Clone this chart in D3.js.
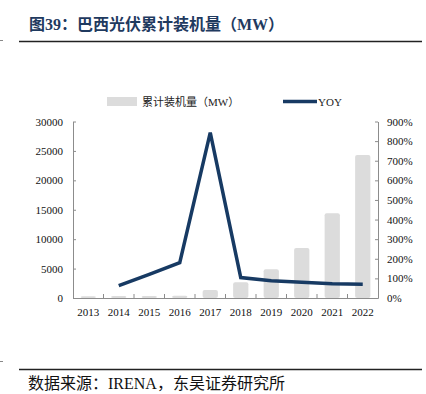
<!DOCTYPE html>
<html>
<head>
<meta charset="utf-8">
<script src="https://cdn.jsdelivr.net/npm/d3@7"></script>
<style>
  body { margin: 0; background: #fff; }
  text { font-family: "Liberation Serif", "Noto Sans CJK SC", serif; }
</style>
</head>
<body>
<script>
// data
const years = ["2013", "2014", "2015", "2016", "2017", "2018", "2019", "2020", "2021", "2022"];
const capacity = [300, 320, 330, 380, 1360, 2670, 4880, 8500, 14400, 24300];
const yoy = [null, 0.63, 1.21, 1.80, 8.43, 1.04, 0.88, 0.80, 0.73, 0.70];
const leftTicks = [0, 5000, 10000, 15000, 20000, 25000, 30000];
const rightTicks = [0, 1, 2, 3, 4, 5, 6, 7, 8, 9];

const width = 426, height = 394;
const fontStack = "'Liberation Serif', 'Noto Sans CJK SC', serif";
const svg = d3.select("body").append("svg")
    .attr("width", width)
    .attr("height", height);

// title + rules
svg.append("text")
    .attr("x", 29).attr("y", 30)
    .style("font-family", fontStack)
    .style("font-weight", "bold")
    .style("font-size", "16px")
    .style("fill", "#1f3a5f")
    .text("图39：巴西光伏累计装机量（MW）");
svg.append("line").attr("x1", 19).attr("x2", 422).attr("y1", 41.5).attr("y2", 41.5)
    .style("stroke", "#222").style("stroke-width", 1.6);
svg.append("line").attr("x1", 0).attr("x2", 3).attr("y1", 40.5).attr("y2", 40.5)
    .style("stroke", "#888");
svg.append("line").attr("x1", 19).attr("x2", 422).attr("y1", 369.5).attr("y2", 369.5)
    .style("stroke", "#222").style("stroke-width", 1.6);
svg.append("line").attr("x1", 0).attr("x2", 3).attr("y1", 361.5).attr("y2", 361.5)
    .style("stroke", "#888");
svg.append("text")
    .attr("x", 28).attr("y", 389)
    .style("font-family", fontStack)
    .style("font-size", "16px")
    .style("fill", "#111")
    .text("数据来源：IRENA，东吴证券研究所");

// scales
const plot = { left: 73, right: 378, top: 121.5, bottom: 298 };
const x = d3.scaleBand().domain(years).range([plot.left, plot.right]).paddingInner(0.5).paddingOuter(0.25);
const xb = d3.scaleBand().domain(years).range([plot.left, plot.right]);
const yL = d3.scaleLinear().domain([0, 30000]).range([plot.bottom, plot.top]);
const yR = d3.scaleLinear().domain([0, 9]).range([plot.bottom, plot.top]);

// bars
svg.append("g").selectAll("rect")
    .data(years)
    .enter().append("rect")
    .attr("x", d => x(d))
    .attr("width", x.bandwidth())
    .attr("y", (d, i) => yL(capacity[i]))
    .attr("height", (d, i) => plot.bottom - yL(capacity[i]))
    .attr("rx", 2)
    .style("fill", "#dcdcdc");

// axes
const axisColor = "#8c8c8c";
const leftAxis = svg.append("g")
    .attr("transform", `translate(${plot.left},0)`)
    .call(d3.axisLeft(yL).tickValues(leftTicks).tickSizeInner(-3).tickSizeOuter(0).tickPadding(10)
        .tickFormat(d3.format("d")));
const rightAxis = svg.append("g")
    .attr("transform", `translate(${plot.right},0)`)
    .call(d3.axisRight(yR).tickValues(rightTicks).tickSizeInner(-3).tickSizeOuter(0).tickPadding(9)
        .tickFormat(d => d3.format(".0%")(d)));
const bottomAxis = svg.append("g")
    .attr("transform", `translate(0,${plot.bottom})`)
    .call(d3.axisBottom(xb).tickSize(0).tickPadding(10));
// inner ticks on category boundaries
bottomAxis.selectAll(".bound")
    .data(years.slice(1))
    .enter().append("line")
    .attr("class", "bound")
    .attr("x1", d => xb(d)).attr("x2", d => xb(d))
    .attr("y1", 0).attr("y2", -4)
    .style("stroke", axisColor);

[leftAxis, rightAxis, bottomAxis].forEach(g => {
    g.attr("font-family", fontStack).attr("font-size", 11);
    g.select(".domain").style("stroke", axisColor);
    g.selectAll(".tick line").style("stroke", axisColor);
    g.selectAll("text")
        .style("font-family", fontStack)
        .style("font-size", "11px")
        .style("fill", "#111");
});

// yoy line
const line = d3.line()
    .defined(d => d[1] !== null)
    .x(d => xb(d[0]) + xb.bandwidth() / 2)
    .y(d => yR(d[1]));
svg.append("path")
    .datum(years.map((d, i) => [d, yoy[i]]))
    .attr("d", line)
    .style("fill", "none")
    .style("stroke", "#173a63")
    .style("stroke-width", 3.5)
    .style("stroke-linejoin", "miter");

// legend
const legend = svg.append("g");
legend.append("rect")
    .attr("x", 107).attr("y", 97).attr("width", 30).attr("height", 9)
    .style("fill", "#dcdcdc");
legend.append("text")
    .attr("x", 142).attr("y", 105.5)
    .style("font-family", fontStack)
    .style("font-size", "11px")
    .style("fill", "#222")
    .text("累计装机量（MW）");
legend.append("line")
    .attr("x1", 283).attr("x2", 317).attr("y1", 101.5).attr("y2", 101.5)
    .style("stroke", "#173a63").style("stroke-width", 3.5);
legend.append("text")
    .attr("x", 318).attr("y", 105.5)
    .style("font-family", fontStack)
    .style("font-size", "11px")
    .style("fill", "#222")
    .text("YOY");
</script>
</body>
</html>
